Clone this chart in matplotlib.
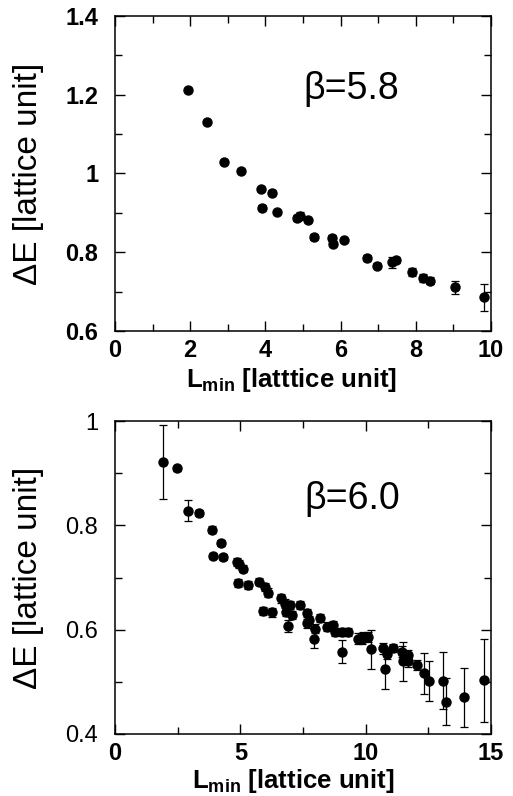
import matplotlib
matplotlib.use("Agg")
import matplotlib.pyplot as plt
from matplotlib.ticker import MultipleLocator

plt.rcParams['font.family'] = ['Liberation Sans', 'DejaVu Sans']
plt.rcParams['mathtext.fontset'] = 'custom'
plt.rcParams['mathtext.rm'] = 'Liberation Sans:bold'
plt.rcParams['mathtext.bf'] = 'Liberation Sans:bold'
plt.rcParams['mathtext.it'] = 'Liberation Sans:bold'

# ---- beta = 5.8 data ----
x58 = [1.93, 2.46, 2.91, 3.36, 3.87, 4.18, 3.90, 4.32, 4.83, 4.93, 5.12, 5.29,
       5.77, 5.81, 6.09, 6.69, 6.96, 7.36, 7.47, 7.91, 8.18, 8.38, 9.03, 9.81]
y58 = [1.212, 1.132, 1.028, 1.006, 0.961, 0.951, 0.913, 0.903, 0.887, 0.893,
       0.883, 0.839, 0.837, 0.822, 0.831, 0.786, 0.766, 0.774, 0.780, 0.750,
       0.735, 0.728, 0.711, 0.686]
e58 = [0.006, 0.005, 0.005, 0.005, 0.005, 0.006, 0.006, 0.005, 0.007, 0.008,
       0.005, 0.007, 0.008, 0.007, 0.006, 0.007, 0.006, 0.013, 0.008, 0.010,
       0.010, 0.008, 0.016, 0.034]

# ---- beta = 6.0 data ----
x60 = [1.93, 2.46, 2.90, 3.35, 3.88, 4.22, 3.90, 4.32, 4.85, 4.95, 5.12, 4.92,
       5.32, 5.76, 5.98, 6.09, 5.89, 6.27, 6.61, 6.78, 6.98, 6.82, 7.05, 6.89,
       7.38, 7.65, 7.75, 7.67, 7.98, 8.18, 7.95, 8.44, 8.71, 8.78, 9.04, 9.31,
       9.04, 9.70, 9.84, 9.91, 10.11, 10.21, 10.70, 10.84, 10.77, 11.10, 11.43,
       11.70, 11.47, 11.70, 12.03, 12.34, 12.54, 13.10, 13.20, 13.92, 14.72]
y60 = [0.922, 0.909, 0.828, 0.824, 0.792, 0.766, 0.741, 0.739, 0.730, 0.726,
       0.717, 0.689, 0.685, 0.692, 0.682, 0.671, 0.636, 0.633, 0.660, 0.650,
       0.647, 0.634, 0.628, 0.607, 0.647, 0.632, 0.618, 0.612, 0.602, 0.622,
       0.583, 0.606, 0.609, 0.596, 0.596, 0.596, 0.558, 0.583, 0.583, 0.586,
       0.586, 0.562, 0.564, 0.553, 0.524, 0.565, 0.558, 0.551, 0.539, 0.539,
       0.532, 0.516, 0.502, 0.502, 0.462, 0.470, 0.503]
e60 = [0.071, 0.004, 0.020, 0.006, 0.006, 0.006, 0.006, 0.006, 0.008, 0.008,
       0.007, 0.008, 0.008, 0.007, 0.007, 0.008, 0.008, 0.008, 0.008, 0.008,
       0.008, 0.008, 0.008, 0.012, 0.008, 0.008, 0.008, 0.008, 0.008, 0.008,
       0.018, 0.008, 0.008, 0.008, 0.008, 0.008, 0.022, 0.010, 0.010, 0.010,
       0.010, 0.038, 0.010, 0.010, 0.038, 0.008, 0.010, 0.010, 0.037, 0.010,
       0.010, 0.040, 0.038, 0.055, 0.045, 0.057, 0.080]

fig = plt.figure(figsize=(5.13, 7.96), dpi=100)
W, H = 513.0, 796.0
ax1 = fig.add_axes([115 / W, 1 - 331 / H, 376 / W, 315 / H])
ax2 = fig.add_axes([115 / W, 1 - 734 / H, 376 / W, 313 / H])

ekw = dict(fmt='o', color='black', ms=6.5, elinewidth=0.9, capsize=3.2,
           capthick=0.9, ecolor='black')
ax1.errorbar(x58, y58, yerr=e58, **ekw)
ax2.errorbar(x60, y60, yerr=e60, **ekw)

# top panel axes
ax1.set_xlim(0, 10)
ax1.set_ylim(0.6, 1.4)
ax1.xaxis.set_major_locator(MultipleLocator(2))
ax1.xaxis.set_minor_locator(MultipleLocator(1))
ax1.set_yticks([0.6, 0.8, 1.0, 1.2, 1.4])
ax1.set_yticklabels(['0.6', '0.8', '1', '1.2', '1.4'])
ax1.yaxis.set_minor_locator(MultipleLocator(0.1))
for lab in ax1.get_xticklabels() + ax1.get_yticklabels():
    lab.set_fontweight('bold')

# bottom panel axes
ax2.set_xlim(0, 15)
ax2.set_ylim(0.4, 1.0)
ax2.xaxis.set_major_locator(MultipleLocator(5))
ax2.xaxis.set_minor_locator(MultipleLocator(2.5))
ax2.set_yticks([0.4, 0.6, 0.8, 1.0])
ax2.set_yticklabels(['0.4', '0.6', '0.8', '1'])
ax2.yaxis.set_minor_locator(MultipleLocator(0.1))
for lab in ax2.get_xticklabels():
    lab.set_fontweight('bold')

for ax in (ax1, ax2):
    for sp in ax.spines.values():
        sp.set_linewidth(1.1)
    ax.tick_params(which='both', direction='in', top=True, right=True,
                   width=1.0, labelsize=17)
    ax.tick_params(which='major', length=7)
    ax.tick_params(which='minor', length=5)
    ax.tick_params(axis='x', which='major', pad=6)
    ax.tick_params(axis='y', which='major', pad=12)

ax1.set_ylabel('ΔE [lattice unit]', fontsize=24)
ax2.set_ylabel('ΔE [lattice unit]', fontsize=24)
ax1.yaxis.set_label_coords(-0.19, 0.5)
ax2.yaxis.set_label_coords(-0.19, 0.5)

ax1.set_xlabel(r'L$_{\mathrm{min}}$ [latttice unit]', fontsize=18.5,
               fontweight='bold', va='top')
ax2.set_xlabel(r'L$_{\mathrm{min}}$ [lattice unit]', fontsize=18.5,
               fontweight='bold', va='top')
ax1.xaxis.set_label_coords(0.47, -0.11)
ax2.xaxis.set_label_coords(0.475, -0.105)

ax1.text(5.0, 1.19, 'β=5.8', fontsize=27, ha='left', va='baseline')
ax2.text(7.55, 0.831, 'β=6.0', fontsize=27, ha='left', va='baseline')

fig.savefig('out.png', dpi=100)
